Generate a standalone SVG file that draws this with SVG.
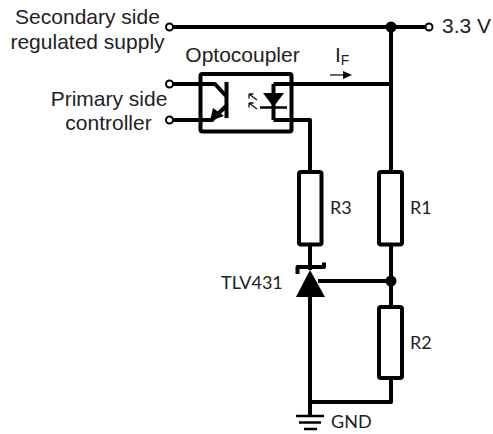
<svg xmlns="http://www.w3.org/2000/svg" width="493" height="434" viewBox="0 0 493 434">
<style>
.w{fill:none;stroke:#000;stroke-width:4;stroke-linejoin:round;stroke-linecap:butt}
.t{fill:none;stroke:#000;stroke-width:2.500}
.th{fill:none;stroke:#111;stroke-width:1.300}
.term{fill:#fff;stroke:#000;stroke-width:2}
.a{font-family:"Liberation Sans",Arial,sans-serif;font-size:21px;fill:#222}
.c{font-family:Lato,"Open Sans",sans-serif;font-size:18px;fill:#222}
</style>
<rect width="493" height="434" fill="#fff"/>
<g id="connectors">
<path class="w" d="M173 27H426"/>
<path class="w" d="M391 27V172"/>
<path class="w" d="M391 245V307"/>
<path class="w" d="M391 378V402H310"/>
<path class="w" d="M310 296V416"/>
<path class="w" d="M310 245V270"/>
<path class="w" d="M310 172V120H273.500"/>
<path class="w" d="M273.500 84H391"/>
<path class="w" d="M173 84H201"/>
<path class="w" d="M173 120H201"/>
<path class="w" d="M318 281H391"/>
<circle cx="391" cy="27" r="5.500"/>
<circle cx="391" cy="281" r="5.500"/>
</g>
<g id="optocoupler">
<rect class="w" x="200.500" y="74" width="91" height="57.500" rx="2" stroke-width="3.500"/>
<path class="w" d="M201 84H215L226 96"/>
<path class="w" d="M201 120H212L226 106"/>
<path class="w" d="M226.500 82V118"/>
<path d="M210 121L213 108L224 116Z"/>
<path class="w" d="M273.500 84V120" stroke-width="3.500"/>
<path d="M263 93H284L273.500 107Z"/>
<path class="t" d="M260 107.500H287"/>
<path class="th" d="M257 100L249 94M249 94V98.500M249 94H253.500M257 109L249 103M249 103V107.500M249 103H253.500"/>
<text class="a" x="242.500" y="62" text-anchor="middle">Optocoupler</text>
</g>
<g id="r3"><rect class="w" x="299" y="172" width="22.500" height="72.500" rx="2" fill="#fff"/><text class="c" x="330" y="214">R3</text></g>
<g id="r1"><rect class="w" x="379" y="172" width="23" height="72.500" rx="2" fill="#fff"/><text class="c" x="410" y="214">R1</text></g>
<g id="r2"><rect class="w" x="379" y="307" width="23" height="71" rx="2" fill="#fff"/><text class="c" x="410" y="349">R2</text></g>
<g id="tlv431">
<path d="M310 270L325 297H296Z"/>
<path class="w" d="M297.500 274V267H324V262.500" stroke-width="3"/>
<text class="c" x="221" y="289">TLV431</text>
</g>
<g id="gnd">
<path class="t" d="M296 416H324"/>
<path class="t" d="M299 422.500H321"/>
<path class="t" d="M304 429H317"/>
<text class="c" x="331" y="428">GND</text>
</g>
<g id="t1"><circle class="term" cx="169.500" cy="27" r="3.500"/><text class="a" x="87.500" y="24" text-anchor="middle">Secondary side</text><text class="a" x="87.500" y="49" text-anchor="middle">regulated supply</text></g>
<g id="t2"><circle class="term" cx="429" cy="27" r="3.500"/><text class="a" x="442" y="33">3.3 V</text></g>
<g id="t3"><circle class="term" cx="169.500" cy="84" r="3.500"/><circle class="term" cx="169.500" cy="120" r="3.500"/><text class="a" x="109" y="106" text-anchor="middle">Primary side</text><text class="a" x="108.500" y="130" text-anchor="middle">controller</text></g>
<g id="if">
<text class="a" x="335" y="62">I<tspan font-size="14" dy="3">F</tspan></text>
<path class="th" d="M330 75H345"/><path d="M352 75L343 71V79Z"/>
</g>
</svg>
